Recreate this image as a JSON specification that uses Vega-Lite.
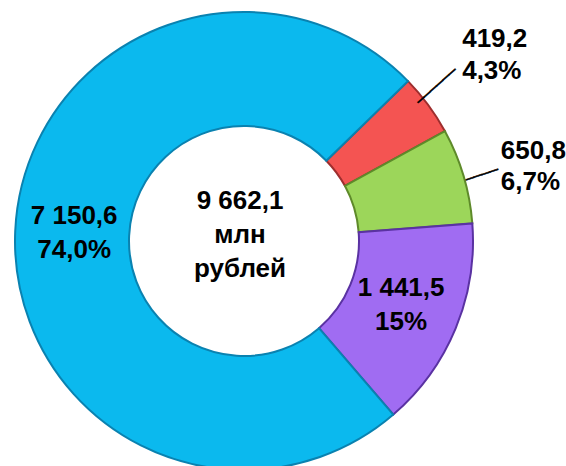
{
  "$schema": "https://vega.github.io/schema/vega-lite/v6.json",
  "width": 488,
  "height": 482,
  "autosize": {"type": "none"},
  "padding": {"left": 0, "top": 0, "right": 78, "bottom": -16},
  "background": "white",
  "config": {"view": {"stroke": null}, "text": {"font": "Liberation Sans, Arial, sans-serif"}},
  "data": {
    "values": [
      {"cat": "A", "value": 419.2, "order": 1, "label": "419,2\n4,3%"},
      {"cat": "B", "value": 650.8, "order": 2, "label": "650,8\n6,7%"},
      {"cat": "C", "value": 1441.5, "order": 3, "label": "1 441,5\n15%"},
      {"cat": "D", "value": 7150.6, "order": 4, "label": "7 150,6\n74,0%"}
    ]
  },
  "encoding": {
    "theta": {"field": "value", "type": "quantitative", "stack": true, "scale": {"range": [0.798, 7.0812]}},
    "order": {"field": "order", "type": "quantitative"}
  },
  "layer": [
    {
      "mark": {"type": "arc", "radius": 229, "radius2": 115, "strokeWidth": 2},
      "encoding": {
        "fill": {"field": "cat", "type": "nominal", "legend": null, "scale": {"domain": ["A", "B", "C", "D"], "range": ["#F45452", "#9CD65A", "#A06CF2", "#0BB9EE"]}},
        "stroke": {"field": "cat", "type": "nominal", "legend": null, "scale": {"domain": ["A", "B", "C", "D"], "range": ["#9E2E2E", "#5E8A2A", "#5A32A2", "#0A82B0"]}}
      }
    },
    {
      "mark": {"type": "text", "radius": 170, "dy": -18, "fontSize": 26, "fontWeight": "bold", "lineBreak": "\n", "lineHeight": 34, "align": "center", "baseline": "middle", "color": "black"},
      "encoding": {
        "text": {"condition": {"test": "datum.cat === 'C' || datum.cat === 'D'", "field": "label"}, "value": ""}
      }
    },
    {
      "mark": {"type": "text", "radius": 280, "dx": -7, "dy": -36, "fontSize": 26, "fontWeight": "bold", "lineBreak": "\n", "lineHeight": 32, "align": "left", "baseline": "middle", "color": "black"},
      "encoding": {
        "text": {"condition": {"test": "datum.cat === 'A'", "field": "label"}, "value": ""}
      }
    },
    {
      "mark": {"type": "text", "radius": 270, "dx": -2, "dy": -13, "fontSize": 26, "fontWeight": "bold", "lineBreak": "\n", "lineHeight": 31, "align": "left", "baseline": "middle", "color": "black"},
      "encoding": {
        "text": {"condition": {"test": "datum.cat === 'B'", "field": "label"}, "value": ""}
      }
    },
    {
      "mark": {"type": "text", "radius": 253, "dx": -5, "dy": -10, "angle": 318.2, "font": "DejaVu Sans Mono", "fontSize": 14, "align": "center", "baseline": "middle", "color": "black", "stroke": "black", "strokeWidth": 0.5},
      "encoding": {
        "text": {"condition": {"test": "datum.cat === 'A'", "value": "──────"}, "value": ""}
      }
    },
    {
      "mark": {"type": "text", "radius": 245, "dx": 2, "dy": 5, "angle": 341.6, "font": "DejaVu Sans Mono", "fontSize": 14, "align": "center", "baseline": "middle", "color": "black", "stroke": "black", "strokeWidth": 0.5},
      "encoding": {
        "text": {"condition": {"test": "datum.cat === 'B'", "value": "────"}, "value": ""}
      }
    },
    {
      "data": {"values": [{"total": "9 662,1\nмлн\nрублей"}]},
      "mark": {"type": "text", "fontSize": 26, "fontWeight": "bold", "lineBreak": "\n", "lineHeight": 34, "align": "center", "baseline": "middle", "color": "black", "dx": -4, "dy": -40},
      "encoding": {
        "theta": null,
        "order": null,
        "text": {"field": "total", "type": "nominal"}
      }
    }
  ]
}
